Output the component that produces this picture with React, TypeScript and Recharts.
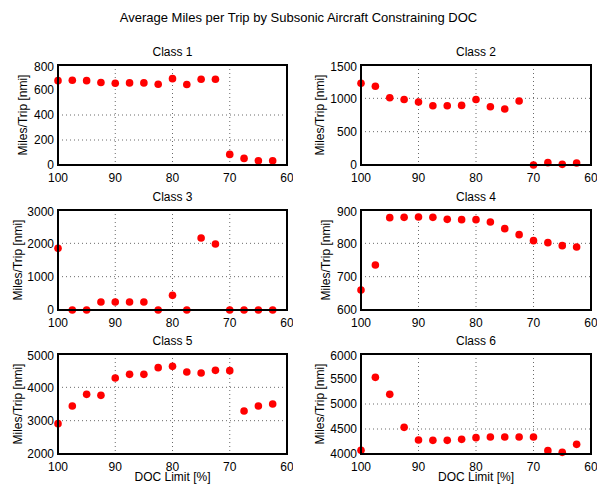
import { ScatterChart, Scatter, XAxis, YAxis, CartesianGrid, ReferenceLine } from 'recharts';

const docLimits = [100, 97.5, 95, 92.5, 90, 87.5, 85, 82.5, 80, 77.5, 75, 72.5, 70, 67.5, 65, 62.5];

const class1 = [675, 678, 675, 660, 654, 657, 657, 646, 691, 644, 686, 686, 85, 53, 34, 34];
const class2 = [1227, 1182, 1008, 983, 944, 889, 889, 894, 983, 874, 839, 959, 0, 35, 10, 30];
const class3 = [1850, 0, 0, 240, 240, 240, 240, 0, 440, 0, 2160, 1980, 0, 0, 0, 0];
const class4 = [660, 735, 877, 878, 879, 878, 872, 871, 871, 864, 844, 826, 808, 802, 793, 789];
const class5 = [2910, 3440, 3790, 3760, 4280, 4390, 4390, 4590, 4630, 4460, 4430, 4510, 4500, 3290, 3440, 3500];
const class6 = [4073, 5533, 5193, 4533, 4280, 4273, 4273, 4293, 4327, 4340, 4340, 4340, 4340, 4067, 4033, 4193];

const xTicks = [100, 90, 80, 70, 60];
const yTicks1 = [0, 200, 400, 600, 800];
const yTicks2 = [0, 500, 1000, 1500];
const yTicks3 = [0, 1000, 2000, 3000];
const yTicks4 = [600, 700, 800, 900];
const yTicks5 = [2000, 3000, 4000, 5000];
const yTicks6 = [4000, 4500, 5000, 5500, 6000];

const FONT = '"Liberation Sans", Arial, Helvetica, sans-serif';
const YW = 50;
const XH = 26;
const MT = 6;
const MR = 6;
const PH = 100;

type Panel = {
  title: string;
  values: number[];
  ticks: number[];
  left: number;
  top: number;
  width: number;
  ylabelX: number;
  xlabel: boolean;
};

const panels: Panel[] = [
  { title: 'Class 1', values: class1, ticks: yTicks1, left: 58, top: 65, width: 229, ylabelX: 23, xlabel: false },
  { title: 'Class 2', values: class2, ticks: yTicks2, left: 361, top: 65, width: 230, ylabelX: 320, xlabel: false },
  { title: 'Class 3', values: class3, ticks: yTicks3, left: 58, top: 210, width: 229, ylabelX: 18, xlabel: false },
  { title: 'Class 4', values: class4, ticks: yTicks4, left: 361, top: 210, width: 230, ylabelX: 326, xlabel: false },
  { title: 'Class 5', values: class5, ticks: yTicks5, left: 58, top: 354, width: 229, ylabelX: 18, xlabel: true },
  { title: 'Class 6', values: class6, ticks: yTicks6, left: 361, top: 354, width: 230, ylabelX: 320, xlabel: true },
];

const Dot = (p: any) => <circle cx={p.cx} cy={p.cy} r={3.8} fill="#ff0000" />;
const tickStyle = { fill: '#000', fontSize: 12, fontFamily: FONT };

function PanelChart({ p }: { p: Panel }) {
  const data = docLimits.map((d, i) => ({ doc: d, miles: p.values[i] }));
  const lo = p.ticks[0];
  const hi = p.ticks[p.ticks.length - 1];
  return (
    <>
      <div
        style={{
          position: 'absolute',
          left: p.left,
          top: p.top - 20,
          width: p.width,
          textAlign: 'center',
          fontSize: 12,
          lineHeight: '14px',
          fontFamily: FONT,
        }}
      >
        {p.title}
      </div>
      <div
        style={{
          position: 'absolute',
          left: p.ylabelX - 60,
          top: p.top + PH / 2 - 7,
          width: 120,
          textAlign: 'center',
          fontSize: 12,
          lineHeight: '14px',
          fontFamily: FONT,
          transform: 'rotate(-90deg)',
          whiteSpace: 'nowrap',
        }}
      >
        Miles/Trip [nmi]
      </div>
      {p.xlabel && (
        <div
          style={{
            position: 'absolute',
            left: p.left,
            top: 471,
            width: p.width,
            textAlign: 'center',
            fontSize: 12,
            lineHeight: '12px',
            fontFamily: FONT,
          }}
        >
          DOC Limit [%]
        </div>
      )}
      <div style={{ position: 'absolute', left: p.left - YW, top: p.top - MT }}>
        <ScatterChart
          width={YW + p.width + MR}
          height={MT + PH + XH}
          margin={{ top: MT, right: MR, left: 0, bottom: 0 }}
        >
          <CartesianGrid stroke="#444" strokeDasharray="1 3" strokeWidth={0.8} />
          <XAxis
            type="number"
            dataKey="doc"
            domain={[60, 100]}
            ticks={xTicks}
            reversed
            height={XH}
            tickLine={false}
            axisLine={false}
            tickSize={3}
            tickMargin={5}
            tick={tickStyle}
          />
          <YAxis
            type="number"
            dataKey="miles"
            domain={[lo, hi]}
            ticks={p.ticks}
            width={YW}
            tickLine={false}
            axisLine={false}
            tickSize={3}
            tickMargin={1}
            tick={tickStyle}
          />
          {/* axes box */}
          <ReferenceLine x={60} stroke="#000" strokeWidth={1.5} />
          <ReferenceLine x={100} stroke="#000" strokeWidth={1.5} />
          <ReferenceLine y={lo} stroke="#000" strokeWidth={1.5} />
          <ReferenceLine y={hi} stroke="#000" strokeWidth={1.5} />
          <Scatter data={data} shape={Dot} isAnimationActive={false} />
        </ScatterChart>
      </div>
      <div
        style={{
          position: 'absolute',
          left: p.left - 1,
          top: p.top - 1,
          width: p.width + 2,
          height: PH + 2,
          boxSizing: 'border-box',
          border: '2px solid #000',
          pointerEvents: 'none',
        }}
      />
    </>
  );
}

export default function App() {
  return (
    <div style={{ position: 'absolute', left: 0, top: 0, width: 597, height: 485, background: '#fff', fontFamily: FONT }}>
      <div
        style={{
          position: 'absolute',
          left: 0,
          top: 9,
          width: 597,
          textAlign: 'center',
          fontSize: 13,
          lineHeight: '18px',
        }}
      >
        Average Miles per Trip by Subsonic Aircraft Constraining DOC
      </div>
      {panels.map((p) => (
        <PanelChart key={p.title} p={p} />
      ))}
    </div>
  );
}
